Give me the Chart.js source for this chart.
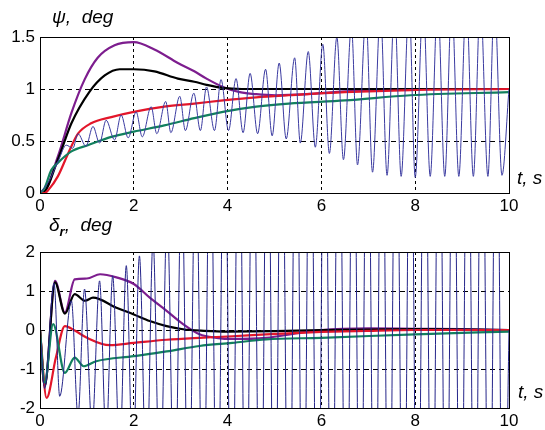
<!DOCTYPE html>
<html>
<head>
<meta charset="utf-8">
<script src="https://cdn.jsdelivr.net/npm/chart.js@4"></script>
<style>
  body { margin: 0; background: #fff; width: 545px; height: 430px; position: relative; overflow: hidden; }
  canvas { position: absolute; left: 0; }
  #psiChart { top: 0; }
  #deltaChart { top: 215px; }
  .lbl { position: absolute; font-family: 'Liberation Sans', Arial, sans-serif; font-style: italic; font-size: 19px; color: #000; white-space: nowrap; }
  .lbl sub { font-size: 13px; font-weight: bold; }
</style>
</head>
<body>
<canvas id="psiChart" width="545" height="215"></canvas>
<canvas id="deltaChart" width="545" height="215"></canvas>
<div class="lbl" style="left:52px; top:6px;">ψ,&nbsp; deg</div>
<div class="lbl" style="left:517px; top:167px;">t, s</div>
<div class="lbl" style="left:49px; top:214px;">δ<sub>r</sub>,&nbsp; deg</div>
<div class="lbl" style="left:518px; top:381px;">t, s</div>
<script>
// tick labels
const timeTicks = [0, 2, 4, 6, 8, 10];
const psiTicks = [0, 0.5, 1, 1.5];
const deltaTicks = [-2, -1, 0, 1, 2];

// heading angle psi, deg  ([t, value])
const psiPurple = [[0, 0], [0.05, 0], [0.38, 0.35], [0.67, 0.77], [0.95, 1.09], [1.23, 1.30], [1.59, 1.42], [2.0, 1.45],
    [2.44, 1.38], [2.94, 1.25], [3.29, 1.17], [3.55, 1.10], [3.9, 1.02], [4.26, 0.97], [4.61, 0.95], [5.03, 0.94],
    [5.67, 0.95], [6.6, 0.98], [7.9, 1.0], [10, 1.0]];
const psiBlack = [[0, 0], [0.05, 0], [0.38, 0.32], [0.67, 0.67], [1.05, 0.97], [1.38, 1.13], [1.7, 1.19], [2.0, 1.19],
    [2.44, 1.17], [2.94, 1.10], [3.29, 1.07], [3.55, 1.04], [3.9, 1.01], [4.3, 1.0], [5, 1.0], [10, 1.0]];
const psiRed = [[0, 0], [0.1, 0], [0.18, 0.03], [0.38, 0.16], [0.6, 0.38], [0.81, 0.57], [1.09, 0.67], [1.52, 0.73],
    [2.0, 0.78], [2.65, 0.83], [3.29, 0.86], [3.9, 0.89], [4.61, 0.92], [5.3, 0.94], [6.5, 0.97], [7.9, 0.99], [10, 1.0]];
const psiGreen = [[0, 0], [0.1, 0.05], [0.24, 0.22], [0.38, 0.29], [0.67, 0.40], [1.02, 0.46], [1.52, 0.54], [2.0, 0.59],
    [2.65, 0.65], [3.29, 0.72], [3.9, 0.78], [4.61, 0.83], [5.3, 0.86], [6.5, 0.89], [7.9, 0.94], [10, 0.97]];
const psiBlue = [[0, 0], [0.2, 0.12], [0.4, 0.32], [0.56, 0.46], [0.70, 0.43], [0.81, 0.57], [0.98, 0.45], [1.13, 0.64],
    [1.27, 0.48], [1.41, 0.70], [1.59, 0.51], [1.73, 0.75], [1.88, 0.53], [2.05, 0.78], [2.18, 0.54], [2.37, 0.83],
    [2.49, 0.57], [2.68, 0.88], [2.79, 0.58], [2.98, 0.93], [3.1, 0.60], [3.28, 0.96], [3.42, 0.60], [3.55, 1.02],
    [3.72, 0.60], [3.86, 1.09], [4.02, 0.60], [4.18, 1.10], [4.33, 0.58], [4.48, 1.15], [4.64, 0.57], [4.81, 1.19],
    [4.95, 0.55], [5.1, 1.25], [5.25, 0.52], [5.43, 1.30], [5.55, 0.48], [5.72, 1.36], [5.87, 0.44], [6.03, 1.43],
    [6.17, 0.38], [6.33, 1.50], [6.47, 0.32], [6.64, 1.60], [6.77, 0.27], [6.95, 1.70], [7.09, 0.20], [7.26, 1.75],
    [7.4, 0.17], [7.56, 1.80], [7.7, 0.16], [7.87, 1.82], [8.0, 0.15], [8.17, 1.84], [8.32, 0.16], [8.48, 1.85],
    [8.63, 0.16], [8.78, 1.85], [8.93, 0.16], [9.09, 1.86], [9.24, 0.16], [9.39, 1.86], [9.55, 0.16], [9.69, 1.86],
    [9.85, 0.17], [10, 1.0]];

// rudder angle delta_r, deg  ([t, value])
const deltaPurple = [[0, 0], [0.1, -1.44], [0.32, 1.26], [0.53, 0.45], [0.74, 1.3], [1.0, 1.32], [1.28, 1.43],
    [1.63, 1.35], [2.0, 1.18], [2.34, 0.83], [2.7, 0.49], [3.05, 0.15], [3.4, -0.11], [3.76, -0.2], [4.1, -0.23],
    [4.82, -0.2], [5.5, -0.08], [6.0, 0], [7.0, 0.04], [8.0, 0.03], [9.0, 0.02], [10, 0]];
const deltaBlack = [[0, 0], [0.1, -1.44], [0.32, 1.22], [0.53, 0.42], [0.74, 0.92], [0.96, 0.75], [1.13, 0.83],
    [1.63, 0.57], [2.0, 0.4], [2.34, 0.23], [2.7, 0.1], [3.05, 0.02], [3.5, -0.02], [4.0, -0.04], [5.0, -0.03],
    [6.0, 0], [8.0, 0.02], [10, 0]];
const deltaRed = [[0, 0], [0.14, -1.74], [0.34, -0.7], [0.53, 0.1], [0.75, -0.02], [1.0, -0.2], [1.49, -0.39],
    [2.0, -0.33], [2.7, -0.25], [3.4, -0.2], [4.1, -0.16], [4.82, -0.11], [6.0, -0.05], [7.0, -0.02], [8.0, 0], [10, 0]];
const deltaGreen = [[0, 0], [0.1, -1.35], [0.28, 0.15], [0.53, -1.1], [0.74, -0.71], [0.93, -0.93], [1.2, -0.8],
    [2.0, -0.67], [2.7, -0.55], [3.4, -0.41], [4.1, -0.33], [4.82, -0.24], [6.0, -0.2], [8.0, -0.11], [10, -0.04]];
const deltaBlue = [[0, 0], [0.1, -1.5], [0.3, 1.2], [0.42, -1.7], [0.67, 0.75], [0.81, -2.2], [0.95, 1.05],
    [1.11, -2.5], [1.27, 1.26], [1.41, -2.8], [1.55, 1.39], [1.70, -3.2], [1.84, 1.65], [1.98, -3.6], [2.12, 1.9],
    [2.27, -4.0], [2.41, 2.3], [2.56, -4.5], [2.71, 3.0], [2.87, -5.0], [3.02, 4.0], [3.17, -5.5], [3.32, 5.0],
    [3.48, -6.0], [3.63, 6.0], [3.78, -6.5], [3.93, 6.5], [4.09, -7.0], [4.24, 7.0], [4.39, -7.0], [4.54, 7.0],
    [4.70, -7.5], [4.85, 7.5], [5.00, -7.5], [5.15, 7.5], [5.31, -8.0], [5.46, 8.0], [5.61, -8.0], [5.76, 8.0],
    [5.92, -8.0], [6.07, 8.0], [6.22, -8.0], [6.37, 8.0], [6.53, -8.0], [6.68, 8.0], [6.83, -8.0], [6.98, 8.0],
    [7.14, -8.0], [7.29, 8.0], [7.44, -8.0], [7.59, 8.0], [7.75, -8.0], [7.90, 8.0], [8.05, -8.0], [8.20, 8.0],
    [8.36, -8.0], [8.51, 8.0], [8.66, -8.0], [8.81, 8.0], [8.97, -8.0], [9.12, 8.0], [9.27, -8.0], [9.42, 8.0],
    [9.58, -8.0], [9.73, 8.0], [9.88, -8.0], [10, 0]];

const FONT = "'Liberation Sans', Arial, sans-serif";

// box around the plot area
const frameBox = {
    id: 'frameBox',
    afterDatasetsDraw(chart) {
        const a = chart.chartArea;
        const ctx = chart.ctx;
        ctx.save();
        ctx.strokeStyle = '#000';
        ctx.lineWidth = 1;
        ctx.strokeRect(Math.round(a.left) + 0.5, Math.round(a.top) + 0.5, Math.round(a.right - a.left), Math.round(a.bottom - a.top));
        ctx.restore();
    }
};

function line(points, color, width) {
    return {
        data: points.map(p => ({ x: p[0], y: p[1] })),
        borderColor: color,
        borderWidth: width,
        pointRadius: 0,
        fill: false,
        cubicInterpolationMode: 'monotone'
    };
}

function gridColor(min, max) {
    return (ctx) => (ctx.tick && (ctx.tick.value === min || ctx.tick.value === max)) ? 'rgba(0,0,0,0)' : '#000';
}

function makeChart(id, datasets, yTicks, dashY) {
    const yMin = yTicks[0], yMax = yTicks[yTicks.length - 1];
    new Chart(document.getElementById(id).getContext('2d'), {
        type: 'line',
        data: { datasets: datasets },
        options: {
            responsive: false,
            animation: false,
            layout: { padding: { left: 0, right: 36, top: 37, bottom: 0 } },
            plugins: { legend: { display: false }, tooltip: { enabled: false } },
            scales: {
                x: {
                    type: 'linear', min: 0, max: 10,
                    afterBuildTicks: s => { s.ticks = timeTicks.map(v => ({ value: v })); },
                    afterFit: s => { s.height = 22; },
                    grid: { color: gridColor(0, 10), lineWidth: 1, drawTicks: false },
                    border: { display: false, dash: [3, 3] },
                    ticks: { color: '#000', font: { family: FONT, size: 17 }, padding: 3, maxRotation: 0,
                        callback: v => String(v) }
                },
                y: {
                    type: 'linear', min: yMin, max: yMax,
                    afterBuildTicks: s => { s.ticks = yTicks.map(v => ({ value: v })); },
                    afterFit: s => { s.width = 40; },
                    grid: { color: gridColor(yMin, yMax), lineWidth: 1, drawTicks: false },
                    border: { display: false, dash: dashY },
                    ticks: { color: '#000', font: { family: FONT, size: 17 }, padding: 5,
                        callback: v => String(v) }
                }
            }
        },
        plugins: [frameBox]
    });
}

makeChart('psiChart', [
    line(psiBlue, '#3a3aa0', 1),
    line(psiGreen, '#12805e', 2.2),
    line(psiRed, '#e3162a', 2.2),
    line(psiBlack, '#000', 2.2),
    line(psiPurple, '#7d1d8e', 2.2)
], psiTicks, [5, 4]);

makeChart('deltaChart', [
    line(deltaBlue, '#25258a', 1),
    line(deltaGreen, '#12805e', 2.2),
    line(deltaRed, '#e3162a', 2.2),
    line(deltaBlack, '#000', 2.2),
    line(deltaPurple, '#7d1d8e', 2.2)
], deltaTicks, [5, 4]);
</script>
</body>
</html>
